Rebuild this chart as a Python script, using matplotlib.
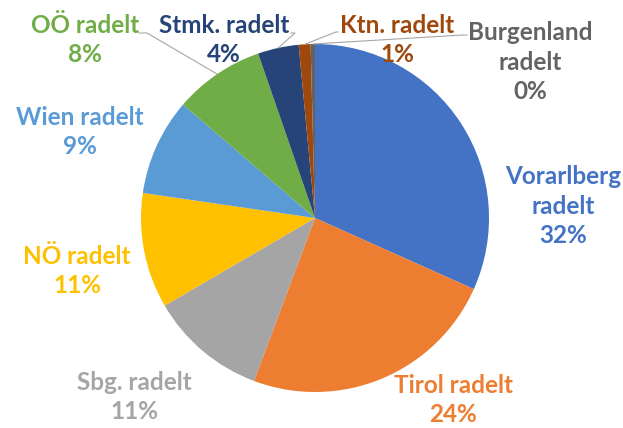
import matplotlib
matplotlib.use("Agg")
import matplotlib.pyplot as plt
import numpy as np

names = ["Vorarlberg\nradelt", "Tirol radelt", "Sbg. radelt", "NÖ radelt", "Wien radelt",
         "OÖ radelt", "Stmk. radelt", "Ktn. radelt", "Burgenland\nradelt"]
shares = [31.7, 24.0, 10.9, 10.7, 9.0, 8.4, 3.8, 1.1, 0.4]
colors = ["#4472C4", "#ED7D31", "#A5A5A5", "#FFC000", "#5B9BD5",
          "#70AD47", "#264478", "#9E480E", "#636363"]

W, H = 623, 428
cx, cy, r = 315, 218, 174   # pie centre / radius in pixels

# label centres in pixels (x, y of the text block centre)
label_pos = [(563, 206), (453, 400), (134, 397), (77, 271), (80, 132),
             (85, 40), (224, 40), (397, 40), (530, 62)]
# leader lines: (label end, elbow) in pixels, None = no leader
leaders = [None, None, None, None, None,
           ((139, 33), (147, 33)), ((291, 33), (295, 33)),
           ((338, 32), (336, 32)), ((467, 35), (463, 35))]

plt.rcParams['font.family'] = ['Lato', 'DejaVu Sans']

fig = plt.figure(figsize=(W / 100, H / 100), dpi=100)
ax = fig.add_axes([(cx - r) / W, (H - cy - r) / H, 2 * r / W, 2 * r / H])
wedges, _ = ax.pie(shares, colors=colors, startangle=90, counterclock=False,
                   radius=1, wedgeprops=dict(linewidth=0))
ax.set_xlim(-1, 1)
ax.set_ylim(-1, 1)
ax.set_aspect("equal")
ax.axis("off")

def px2data(x, y):
    return (x - cx) / r, (cy - y) / r

total = sum(shares)
for i, (w, name) in enumerate(zip(wedges, names)):
    pct = f"{round(shares[i] / total * 100):.0f}%"
    x, y = px2data(*label_pos[i])
    ax.text(x, y, f"{name}\n{pct}", ha="center", va="center", fontsize=17.5,
            fontweight="bold", color=colors[i], linespacing=1.35, clip_on=False)
    if leaders[i] is not None:
        ang = np.deg2rad((w.theta1 + w.theta2) / 2)
        ex, ey = np.cos(ang), np.sin(ang)
        (x1, y1), (x2, y2) = leaders[i]
        a, b = px2data(x1, y1)
        c, d = px2data(x2, y2)
        ax.plot([a, c, ex], [b, d, ey], color="#A6A6A6", lw=0.8, clip_on=False)

plt.savefig("out.png", dpi=100)
